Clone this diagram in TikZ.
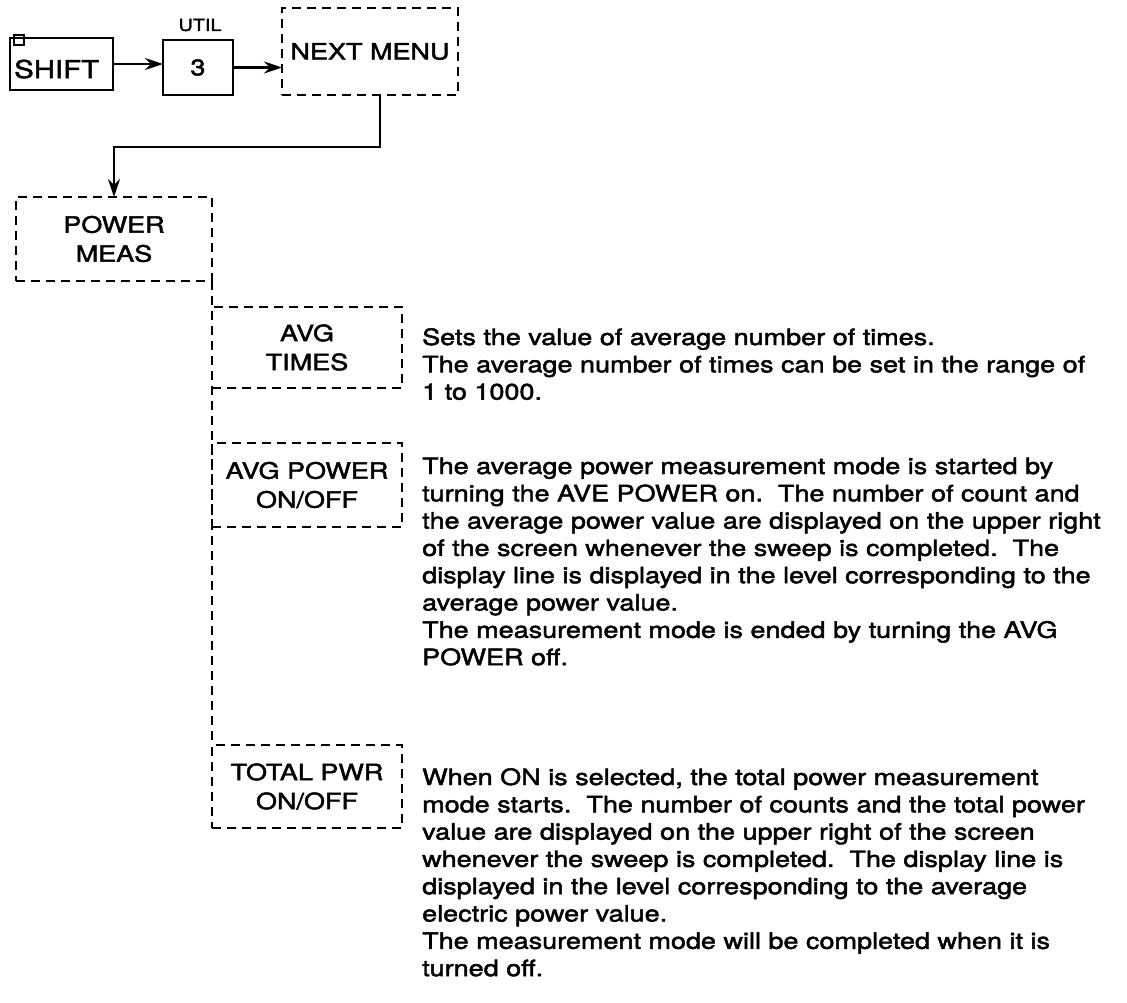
\documentclass[tikz,border=0pt]{standalone}
\usepackage{fontspec}
\setmainfont{TeX Gyre Heros}[FakeStretch=1.2, FakeBold=2]
\usetikzlibrary{arrows.meta}
\tikzset{
  solidbox/.style={draw, line width=2.8pt, inner sep=0pt, outer sep=0pt},
  dbox/.style={draw, line width=2.8pt, dash pattern=on 9pt off 6pt, inner sep=0pt, outer sep=0pt,
     align=center, font=\fontsize{22.5}{29}\selectfont},
  dline/.style={draw, line width=2.8pt, dash pattern=on 9pt off 6pt},
  conn/.style={draw, line width=2.6pt, -{Stealth[length=18pt,width=12pt]}},
  desc/.style={anchor=base west, inner sep=0pt, text width=700pt, align=left,
     font=\fontsize{22.5}{27.3}\selectfont},
  lbl/.style={inner sep=0pt, font=\fontsize{22.5}{28}\selectfont}
}
\begin{document}
\begin{tikzpicture}[x=1pt,y=-1pt]
\useasboundingbox (0,0) rectangle (1127,1002);
% top row
\node[solidbox, minimum width=103pt, minimum height=52pt] (shift) at (61.5,64) {};
\node[inner sep=0pt, font=\fontsize{24.5}{28}\selectfont, anchor=base west] (shifttxt)
  at ([xshift=4pt,yshift=-14pt]shift.west) {SHIFT};
\draw[line width=1.6pt] ([xshift=4pt,yshift=3pt]shift.north west) rectangle ++(10,10);
\node[solidbox, minimum width=70pt, minimum height=55pt, lbl] (three) at (198,67.5) {3};
\node[inner sep=0pt, font=\fontsize{16.5}{18}\selectfont] (util) at (200,25) {UTIL};
\node[dbox, minimum width=176pt, minimum height=87pt] (nm) at (370,51.5) {NEXT MENU};
\draw[conn] (shift.east) -- (shift.east -| three.west);
\draw[conn] (three.east) -- (three.east -| nm.west);
% power meas
\node[dbox, minimum width=196pt, minimum height=84pt] (pm) at (114,239) {POWER\\MEAS};
\draw[conn] ([xshift=10pt]nm.south) -- ++(0,52) -| (pm.north);
% sub menu
\node[dbox, minimum width=190pt, minimum height=81pt] (at) at (307,347.5) {AVG\\TIMES};
\node[dbox, minimum width=190pt, minimum height=84pt] (ap) at (307,485) {AVG POWER\\ON/OFF};
\node[dbox, minimum width=190pt, minimum height=83pt] (tp) at (307,786.5) {TOTAL PWR\\ON/OFF};
\draw[dline] (pm.south east) -- (tp.north west);
% descriptions
\node[desc] (atd) at (422,345) {Sets the value of average number of times.\\
The average number of times can be set in the range of\\
1 to 1000.};
\node[desc] (apd) at (422,474) {The average power measurement mode is started by\\
turning the AVE POWER on.\ \ The number of count and\\
the average power value are displayed on the upper right\\
of the screen whenever the sweep is completed.\ \ The\\
display line is displayed in the level corresponding to the\\
average power value.\\
The measurement mode is ended by turning the AVG\\
POWER off.};
\node[desc] (tpd) at (422,785) {When ON is selected, the total power measurement\\
mode starts.\ \ The number of counts and the total power\\
value are displayed on the upper right of the screen\\
whenever the sweep is completed.\ \ The display line is\\
displayed in the level corresponding to the average\\
electric power value.\\
The measurement mode will be completed when it is\\
turned off.};
\end{tikzpicture}
\end{document}
